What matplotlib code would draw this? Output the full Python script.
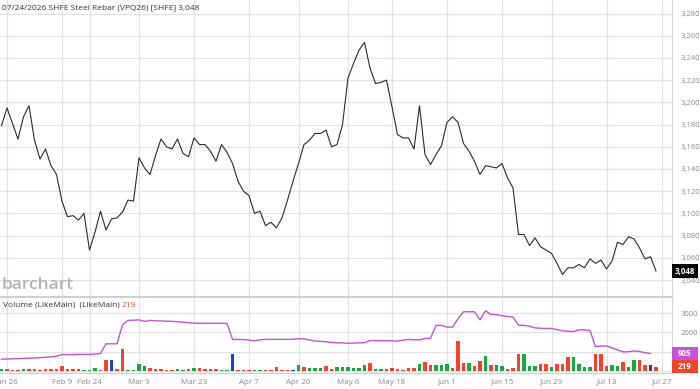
import matplotlib
matplotlib.use("Agg")
import matplotlib.pyplot as plt
import matplotlib.transforms as mtransforms
from matplotlib.patches import Rectangle

plt.rcParams['font.family'] = ['Open Sans', 'DejaVu Sans']

# ---------------- data ----------------
# trading-day index: -1 = Jan 23, 0 = Jan 26, ... 118 = Jul 24
price_idx = list(range(-1, 119))
prices = [
    3179, 3195, 3181, 3167, 3187, 3197, 3166, 3149, 3158, 3143,
    3135, 3111, 3097, 3098, 3094, 3100, 3067, 3083, 3102, 3085,
    3095, 3096, 3101, 3112, 3111, 3150, 3141, 3135, 3152, 3167,
    3160, 3158, 3167, 3154, 3151, 3168, 3162, 3162, 3156, 3147,
    3162, 3155, 3145, 3129, 3120, 3116, 3100, 3102, 3089, 3092,
    3087, 3096, 3112, 3129, 3145, 3162, 3166, 3172, 3172, 3175,
    3160, 3162, 3180, 3222, 3235, 3247, 3254, 3231, 3217, 3218,
    3220, 3196, 3171, 3168, 3168, 3158, 3197, 3153, 3144, 3153,
    3161, 3182, 3187, 3182, 3163, 3156, 3147, 3135, 3143, 3142,
    3141, 3145, 3132, 3123, 3081, 3081, 3071, 3078, 3070, 3067,
    3064, 3055, 3045, 3051, 3051, 3054, 3051, 3059, 3055, 3058,
    3050, 3057, 3074, 3072, 3079, 3077, 3069, 3059, 3061, 3048,
]

volumes = [
    80, 110, 50, 50, 90, 120, 120, 70, 110, 120,
    120, 280, 110, 90, 110, 50, 50, 170, 70, 590,
    590, 110, 1160, 60, 60, 380, 260, 170, 120, 110,
    60, 60, 100, 60, 80, 160, 170, 80, 80, 80,
    60, 60, 900, 60, 60, 60, 30, 50, 50, 50,
    180, 60, 60, 60, 330, 180, 160, 160, 160, 260,
    100, 190, 190, 190, 140, 140, 330, 400, 100, 100,
    100, 170, 100, 70, 170, 170, 380, 450, 300, 330,
    330, 370, 170, 1550, 400, 400, 280, 540, 750, 310,
    310, 280, 100, 170, 900, 900, 260, 230, 370, 370,
    210, 370, 370, 700, 700, 380, 190, 190, 870, 870,
    260, 310, 260, 470, 210, 570, 570, 330, 300, 219,
]
# g = up day, r = down day, b = unchanged
vol_dir = list(
    "grrrgrrrrr"
    "rrrrrgggrr"
    "brrggggrrr"
    "rrggrgrrrr"
    "ggbrrrggrr"
    "rrrbgrgggr"
    "rggggggrgg"
    "rrrrrrgrrg"
    "ggrrrgrrgr"
    "ggrrrgggrr"
    "grrrggggrr"
    "rggrggrrbr"
)

# second series ("LikeMain") index -1 .. 117
likemain = [
    610, 620, 630, 640, 650, 660, 670, 690, 710, 730,
    760, 850, 850, 850, 860, 860, 860, 880, 900, 1410,
    1410, 1410, 2400, 2630, 2640, 2660, 2580, 2630, 2610, 2600,
    2590, 2580, 2560, 2540, 2510, 2490, 2480, 2480, 2480, 2480,
    2480, 2470, 1640, 1640, 1630, 1610, 1570, 1620, 1640, 1640,
    1640, 1640, 1640, 1650, 1670, 1670, 1610, 1550, 1540, 1520,
    1480, 1460, 1460, 1440, 1450, 1460, 1470, 1580, 1580, 1570,
    1570, 1570, 1550, 1600, 1640, 1620, 1620, 1690, 1700, 2370,
    2370, 2280, 2280, 2710, 3080, 3080, 3080, 2660, 3130, 2940,
    2930, 2870, 2840, 2800, 2380, 2370, 2330, 2240, 2220, 2210,
    2210, 2150, 2090, 2060, 2050, 2140, 2140, 2100, 1270, 1290,
    1300, 1200, 1100, 990, 1000, 1040, 1010, 950, 905,
]

tick_idx = [0, 10, 15, 24, 34, 44, 53, 62, 70, 80, 90, 99, 109, 119]
tick_labels = ["Jan 26", "Feb 9", "Feb 24", "Mar 9", "Mar 23", "Apr 7", "Apr 20",
               "May 6", "May 18", "Jun 1", "Jun 15", "Jun 29", "Jul 13", "Jul 27"]
price_ticks = list(range(3040, 3281, 20))
vol_ticks = [1000, 2000, 3000]

title = "07/24/2026 SHFE Steel Rebar (VPQ26) [SHFE] 3,048"
last_price_label = "3,048"
last_like_label = "905"
last_vol_label = "219"

# ---------------- style ----------------
W, H = 700, 389
GRID = "#e3e3e3"
TXT = "#8a8a8a"
RED = "#f4432c"
GREEN = "#1aa641"
BLUE = "#2344b4"
PURPLE = "#c453d8"
colmap = {"g": GREEN, "r": RED, "b": BLUE}

fig = plt.figure(figsize=(W / 100, H / 100), dpi=100)
fig.patch.set_facecolor("white")

def px_axes(x0, y0, x1, y1):
    return fig.add_axes([x0 / W, 1 - y1 / H, (x1 - x0) / W, (y1 - y0) / H])

ax = px_axes(0, 0, 672, 297)
axv = px_axes(0, 298, 672, 373)

xlim = (-7 / 5.5, (672 - 7) / 5.5)

for a in (ax, axv):
    a.set_xlim(*xlim)
    a.set_xticks(tick_idx)
    a.grid(True, color=GRID, linewidth=0.9)
    a.set_axisbelow(True)
    a.tick_params(length=0)
    for s in ("top", "left"):
        a.spines[s].set_visible(False)
    a.spines["right"].set_color("#d6d6d6")
    a.spines["bottom"].set_color("#cfcfcf")

# main price panel
ax.set_ylim(3024.7, 3292.2)
ax.set_yticks(price_ticks)
ax.yaxis.tick_right()
ax.set_yticklabels([f"{v:,}" for v in price_ticks], fontsize=5.5, color=TXT)
ax.tick_params(axis="y", pad=6)
ax.set_xticklabels([])
ax.spines["bottom"].set_linewidth(1.6)
ax.plot(price_idx, prices, color="#2b2b2b", linewidth=0.8, zorder=3)

fig.text(2 / W, 1 - 8 / H, title, fontsize=6, color="#333333", va="center", ha="left")
ax.text(0.002, 0.012, "barchart", transform=ax.transAxes, fontsize=12.5, fontweight="semibold",
        color="#b4b4b4", ha="left", va="bottom")

# volume panel
axv.set_ylim(-110, 3797)
axv.set_yticks([0] + vol_ticks)
axv.yaxis.tick_right()
axv.set_yticklabels([""] + [str(v) for v in vol_ticks], fontsize=5.5, color=TXT)
axv.tick_params(axis="y", pad=6)
axv.set_xticklabels(tick_labels, fontsize=5.8, color=TXT)
axv.tick_params(axis="x", pad=4)

bar_colors = [colmap[c] for c in vol_dir]
axv.bar(price_idx, volumes, width=0.66, color=bar_colors, zorder=2)
axv.plot(price_idx[:len(likemain)], likemain, color=PURPLE, linewidth=1.0, zorder=3)

t1 = fig.text(3 / W, 1 - 305.5 / H, "Volume (LikeMain)  (LikeMain) ", fontsize=6, color="#333333",
              va="center", ha="left")
fig.canvas.draw()
bb = t1.get_window_extent()
fig.text(bb.x1 / W, 1 - 305.5 / H, last_vol_label, fontsize=6, color=RED, va="center", ha="left")

# value badges on the right axis (fixed-width boxes)
def badge(axis, value, label, color, h_px=13, z=10):
    ypx = axis.transData.transform((0, value))[1]
    x0 = 672
    fig.patches.append(Rectangle((x0 / W, (ypx - h_px / 2) / H), 26 / W, h_px / H,
                                 transform=fig.transFigure, facecolor=color, edgecolor="none",
                                 zorder=z))
    fig.text((x0 + 13) / W, ypx / H, label, fontsize=5.8, fontweight="bold", color="white",
             ha="center", va="center", zorder=z + 1)

badge(ax, prices[-1], last_price_label, "black", h_px=14)
badge(axv, likemain[-1], last_like_label, PURPLE, h_px=13, z=12)
badge(axv, volumes[-1], last_vol_label, RED, h_px=13, z=14)

fig.savefig("out.png", dpi=100, facecolor="white")
